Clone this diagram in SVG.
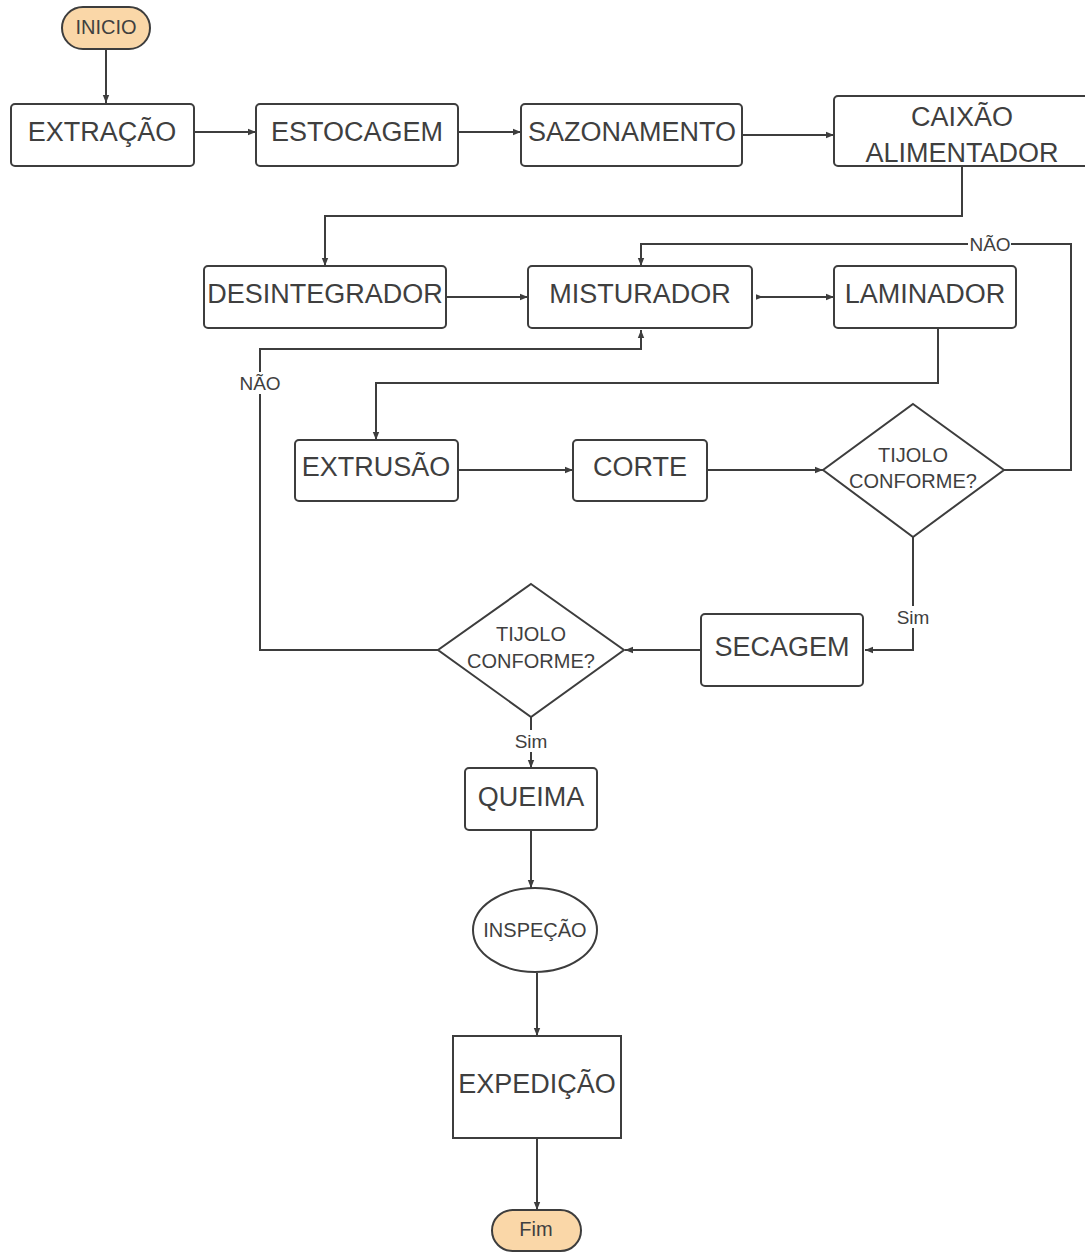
<svg xmlns="http://www.w3.org/2000/svg" width="1085" height="1253" viewBox="0 0 1085 1253">
<defs>
<marker id="ah" viewBox="0 0 10 10" refX="10" refY="5" markerWidth="8" markerHeight="8" markerUnits="userSpaceOnUse" orient="auto"><path d="M0,1 L10,5 L0,9 Z" fill="#3d3d3d"/></marker>
<marker id="as" viewBox="0 0 10 10" refX="0" refY="5" markerWidth="7" markerHeight="7" markerUnits="userSpaceOnUse" orient="auto"><path d="M0,1 L10,5 L0,9 Z" fill="#3d3d3d"/></marker>
</defs>
<style>
.n{fill:#fff;stroke:#3d3d3d;stroke-width:2}
.t{fill:#fad7a8;stroke:#3d3d3d;stroke-width:2}
.c{fill:none;stroke:#3d3d3d;stroke-width:2;marker-end:url(#ah)}
text{font-family:"Liberation Sans",Arial,sans-serif;fill:#3f3f3f;text-anchor:middle;dominant-baseline:central}
.b{font-size:27px}
.s{font-size:20px}
.d{font-size:20px}
.l{font-size:19px}
</style>
<rect width="1085" height="1253" fill="#fff"/>
<g id="connectors">
<path class="c" d="M106,49 V103"/>
<path class="c" d="M194,132 H256"/>
<path class="c" d="M458,132 H521"/>
<path class="c" d="M742,135 H834"/>
<path class="c" d="M962,166 V216 H325 V266"/>
<path class="c" d="M446,297 H528"/>
<path class="c" d="M756,297 H834" style="marker-start:url(#as)"/>
<path class="c" d="M1004,470 H1071 V244 H641 V266"/>
<path class="c" d="M438,650 H260 V349 H641 V330"/>
<path class="c" d="M938,328 V383 H376 V440"/>
<path class="c" d="M458,470 H573"/>
<path class="c" d="M707,470 H823"/>
<path class="c" d="M913,537 V650 H865"/>
<path class="c" d="M701,650 H625"/>
<path class="c" d="M531,717 V768"/>
<path class="c" d="M531,830 V888"/>
<path class="c" d="M537,973 V1036"/>
<path class="c" d="M537,1138 V1210"/>
<rect x="968" y="234" width="43" height="20" fill="#fff"/>
<text class="l" x="990" y="244">NÃO</text>
<rect x="238" y="372" width="44" height="22" fill="#fff"/>
<text class="l" x="260" y="383">NÃO</text>
<rect x="896" y="606" width="34" height="22" fill="#fff"/>
<text class="l" x="913" y="617">Sim</text>
<rect x="514" y="730" width="34" height="22" fill="#fff"/>
<text class="l" x="531" y="741">Sim</text>
</g>
<g id="inicio"><rect class="t" x="62" y="7" width="88" height="42" rx="21"/><text class="s" x="106" y="27">INICIO</text></g>
<g id="extracao"><rect class="n" x="11" y="104" width="183" height="62" rx="4"/><text class="b" x="102" y="132">EXTRAÇÃO</text></g>
<g id="estocagem"><rect class="n" x="256" y="104" width="202" height="62" rx="4"/><text class="b" x="357" y="132">ESTOCAGEM</text></g>
<g id="sazonamento"><rect class="n" x="521" y="104" width="221" height="62" rx="4"/><text class="b" x="632" y="132">SAZONAMENTO</text></g>
<g id="caixao"><rect class="n" x="834" y="96" width="260" height="70" rx="4"/><text class="b" x="962" y="117">CAIXÃO</text><text class="b" x="962" y="153">ALIMENTADOR</text></g>
<g id="desintegrador"><rect class="n" x="204" y="266" width="242" height="62" rx="4"/><text class="b" x="325" y="294">DESINTEGRADOR</text></g>
<g id="misturador"><rect class="n" x="528" y="266" width="224" height="62" rx="4"/><text class="b" x="640" y="294">MISTURADOR</text></g>
<g id="laminador"><rect class="n" x="834" y="266" width="182" height="62" rx="4"/><text class="b" x="925" y="294">LAMINADOR</text></g>
<g id="extrusao"><rect class="n" x="295" y="440" width="163" height="61" rx="4"/><text class="b" x="376" y="467">EXTRUSÃO</text></g>
<g id="corte"><rect class="n" x="573" y="440" width="134" height="61" rx="4"/><text class="b" x="640" y="467">CORTE</text></g>
<g id="decisao1"><polygon class="n" points="913,404 1004,470 913,537 823,470"/><text class="d" x="913" y="455">TIJOLO</text><text class="d" x="913" y="481">CONFORME?</text></g>
<g id="secagem"><rect class="n" x="701" y="614" width="162" height="72" rx="4"/><text class="b" x="782" y="647">SECAGEM</text></g>
<g id="decisao2"><polygon class="n" points="531,584 624,650 531,717 438,650"/><text class="d" x="531" y="634">TIJOLO</text><text class="d" x="531" y="661">CONFORME?</text></g>
<g id="queima"><rect class="n" x="465" y="768" width="132" height="62" rx="4"/><text class="b" x="531" y="797">QUEIMA</text></g>
<g id="inspecao"><ellipse class="n" cx="535" cy="930" rx="62" ry="42"/><text class="s" x="535" y="930">INSPEÇÃO</text></g>
<g id="expedicao"><rect class="n" x="453" y="1036" width="168" height="102"/><text class="b" x="537" y="1084">EXPEDIÇÃO</text></g>
<g id="fim"><rect class="t" x="492" y="1210" width="89" height="41" rx="20.5"/><text class="s" x="536" y="1229">Fim</text></g>
</svg>
